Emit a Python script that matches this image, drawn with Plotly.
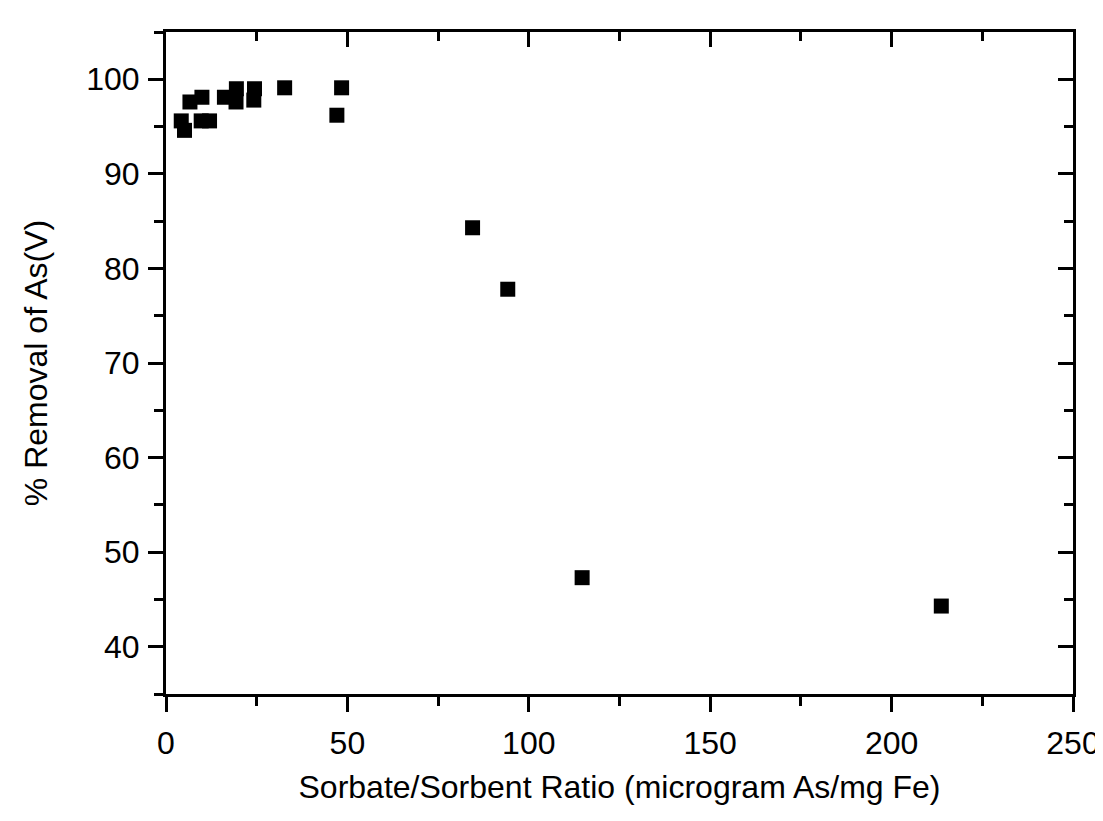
import plotly.graph_objects as go

# Data (Sorbate/Sorbent ratio vs % removal of As(V))
ratio = [4.2, 5.1, 6.6, 9.9, 9.7, 12.0, 16.1, 19.4, 19.3, 24.4, 24.2, 32.7,
         48.4, 47.1, 84.5, 94.2, 114.7, 213.7]
removal = [95.6, 94.6, 97.6, 98.1, 95.6, 95.6, 98.1, 99.0, 97.6, 99.0, 97.8,
           99.1, 99.1, 96.2, 84.3, 77.8, 47.3, 44.3]

x_title = "Sorbate/Sorbent Ratio (microgram As/mg Fe)"
y_title = "% Removal of As(V)"
x_range = [0, 250]
y_range = [35, 105]

FONT = "Liberation Sans, Arial, sans-serif"

fig = go.Figure()
fig.add_trace(go.Scatter(
    x=ratio, y=removal, mode="markers",
    marker=dict(symbol="square", size=15, color="black", line=dict(width=0)),
    showlegend=False, hoverinfo="x+y"))
# empty trace to activate mirrored (top/right) axes
fig.add_trace(go.Scatter(x=[], y=[], xaxis="x2", yaxis="y2", showlegend=False))

common = dict(showgrid=False, zeroline=False, showline=True, linecolor="black",
              linewidth=3, tickcolor="black", tickwidth=3)

fig.update_layout(
    width=1103, height=821,
    paper_bgcolor="white", plot_bgcolor="white",
    margin=dict(l=158, r=38, t=24, b=135),
    font=dict(family=FONT, size=32, color="black"),
    xaxis=dict(range=x_range, dtick=50, tick0=0, ticks="outside", ticklen=15,
               minor=dict(ticks="outside", ticklen=9, dtick=25, tickcolor="black", tickwidth=3),
               title=dict(text=x_title, font=dict(size=32), standoff=16),
               ticklabelstandoff=4, **common),
    yaxis=dict(range=y_range, dtick=10, tick0=0, ticks="outside", ticklen=15,
               minor=dict(ticks="outside", ticklen=9, dtick=5, tickcolor="black", tickwidth=3),
               title=dict(text=y_title, font=dict(size=32), standoff=30),
               ticklabelstandoff=2, **common),
    xaxis2=dict(range=x_range, dtick=50, tick0=0, overlaying="x", side="top",
                anchor="y", ticks="inside", ticklen=15, showticklabels=False,
                minor=dict(ticks="inside", ticklen=9, dtick=25, tickcolor="black", tickwidth=3),
                **common),
    yaxis2=dict(range=y_range, dtick=10, tick0=0, overlaying="y", side="right",
                anchor="x", ticks="inside", ticklen=15, showticklabels=False,
                minor=dict(ticks="inside", ticklen=9, dtick=5, tickcolor="black", tickwidth=3),
                **common),
)

fig.write_html("out.html")
